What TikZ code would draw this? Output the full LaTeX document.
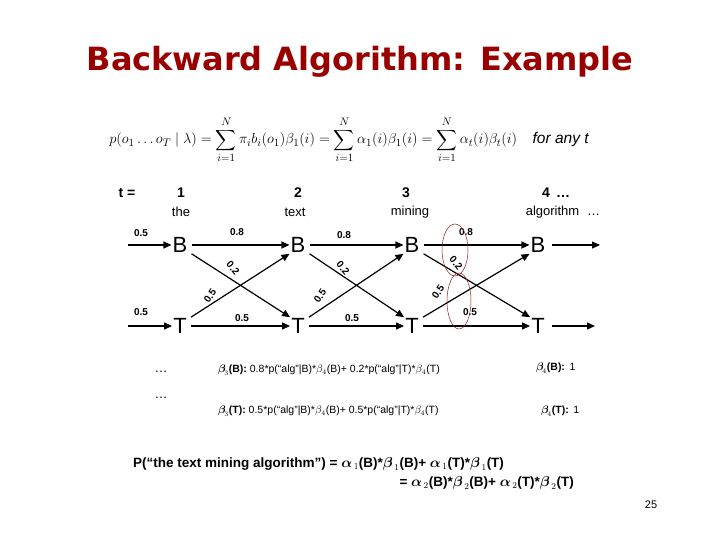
\documentclass[tikz,border=0pt]{standalone}
\usepackage{fontspec}
\setmainfont{Liberation Sans}
\newfontfamily\titlefont{DejaVu Sans}
\usepackage{amsmath}
\usetikzlibrary{arrows.meta}
\definecolor{titlered}{RGB}{153,0,0}
\definecolor{ellred}{RGB}{140,30,30}
\begin{document}
\begin{tikzpicture}[x=1pt,y=-1pt,
  st/.style={font=\fontsize{22}{22}\selectfont,inner sep=1pt},
  lab/.style={font=\bfseries\fontsize{10}{10}\selectfont,inner sep=0pt},
  hd/.style={font=\bfseries\fontsize{14}{14}\selectfont,inner sep=0pt},
  wd/.style={font=\fontsize{13}{13}\selectfont,inner sep=0pt},
  arr/.style={-{Triangle[length=8pt,width=7pt]},line width=1.2pt},
  txt/.style={font=\fontsize{10.5}{12}\selectfont,inner sep=0pt,anchor=west}]
\useasboundingbox (0,0) rectangle (720,540);
\node[font=\titlefont\bfseries\fontsize{32}{32}\selectfont,text=titlered] (title) at (360,62) {Backward Algorithm: Example};
\node (formula) at (349,140) {\fontsize{15.5}{15.5}\selectfont$p(o_1\ldots o_T\mid\lambda)=\displaystyle\sum_{i=1}^N\pi_i b_i(o_1)\beta_1(i)=\sum_{i=1}^N\alpha_1(i)\beta_1(i)=\sum_{i=1}^N\alpha_t(i)\beta_t(i)\quad\textit{for any t}$};
% headers
\node[hd] (tl) at (127,193) {t =};
\node[hd] (h1) at (181,193) {1};
\node[hd] (h2) at (298,193) {2};
\node[hd] (h3) at (406,193) {3};
\node[hd] (h4) at (556,193) {4 \,\ldots};
\node[wd] (w1) at (181,212) {the};
\node[wd] (w2) at (295,212) {text};
\node[wd] (w3) at (410,212) {mining};
\node[wd] (w4) at (563,212) {algorithm \,\,\ldots};
% states
\node[st] (B1) at (180,245) {B};
\node[st] (B2) at (298,245) {B};
\node[st] (B3) at (412,245) {B};
\node[st] (B4) at (538,245) {B};
\node[st] (T1) at (180,326) {T};
\node[st] (T2) at (298,326) {T};
\node[st] (T3) at (412,326) {T};
\node[st] (T4) at (538,326) {T};
\coordinate (iB) at (128,245);
\coordinate (iT) at (128,326);
\coordinate (oB) at (600,245);
\coordinate (oT) at (595,326);
\draw[arr] (iB) -- (B1);
\draw[arr] (iT) -- (T1);
\draw[arr] (B4) ++(14,0) -- (oB);
\draw[arr] (T4) ++(14,0) -- (oT);
\foreach \a/\b in {1/2,2/3,3/4}{
  \draw[arr] (B\a.east) ++(3,0) -- (B\b.west);
  \draw[arr] (T\a.east) ++(3,0) -- (T\b.west);
  \draw[arr] (B\a.south east) ++(3,0) -- (T\b.north west);
  \draw[arr] (T\a.north east) ++(3,0) -- (B\b.south west);
}
% labels
\node[lab] (l0b) at (141,233) {0.5};
\node[lab] (l0t) at (141,312) {0.5};
\node[lab] (l1) at (237,232) {0.8};
\node[lab] (l2) at (344,235) {0.8};
\node[lab] (l3) at (466,232) {0.8};
\node[lab,rotate=-50] (m1) at (233,268) {0.2};
\node[lab,rotate=-50] (m2) at (343,268) {0.2};
\node[lab,rotate=-50] (m3) at (456,263) {0.2};
\node[lab,rotate=55] (n1) at (210,296) {0.5};
\node[lab,rotate=55] (n2) at (320,296) {0.5};
\node[lab,rotate=55] (n3) at (438,292) {0.5};
\node[lab] (k1) at (242,318) {0.5};
\node[lab] (k2) at (352,318) {0.5};
\node[lab] (k3) at (470,312) {0.5};
\draw[ellred,line width=0.5pt] (455,250) ellipse [x radius=13,y radius=26];
\draw[ellred,line width=0.5pt] (459,301) ellipse [x radius=12,y radius=28];
% bottom text
\node[font=\fontsize{13}{13}\selectfont] (d1) at (161,372) {\ldots};
\node[font=\fontsize{13}{13}\selectfont] (d2) at (161,398) {\ldots};
\node[txt] (b3B) at (218,370) {\textbf{$\boldsymbol\beta_{\!3}$(B):} 0.8*p(``alg''|B)*$\beta_4$(B)+ 0.2*p(``alg''|T)*$\beta_4$(T)};
\node[txt] (b3T) at (218,411) {\textbf{$\boldsymbol\beta_{\!3}$(T):} 0.5*p(``alg''|B)*$\beta_4$(B)+ 0.5*p(``alg''|T)*$\beta_4$(T)};
\node[txt] (b4B) at (536,368) {\textbf{$\boldsymbol\beta_{\!4}$(B):}\, 1};
\node[txt] (b4T) at (541,411) {\textbf{$\boldsymbol\beta_{\!4}$(T):}\, 1};
\node[txt,font=\bfseries\fontsize{13.5}{15}\selectfont] (p1) at (133,464) {P(``the text mining algorithm'') = $\boldsymbol\alpha_{\,1}$(B)*$\boldsymbol\beta_{\,1}$(B)+ $\boldsymbol\alpha_{\,1}$(T)*$\boldsymbol\beta_{\,1}$(T)};
\node[font=\bfseries\fontsize{13.5}{15}\selectfont,inner sep=0pt,anchor=east] (p2) at (574,483) {= $\boldsymbol\alpha_{\,2}$(B)*$\boldsymbol\beta_{\,2}$(B)+ $\boldsymbol\alpha_{\,2}$(T)*$\boldsymbol\beta_{\,2}$(T)};
\node[font=\rmfamily\fontsize{11}{11}\selectfont] (pg) at (651,505) {25};
\end{tikzpicture}
\end{document}
